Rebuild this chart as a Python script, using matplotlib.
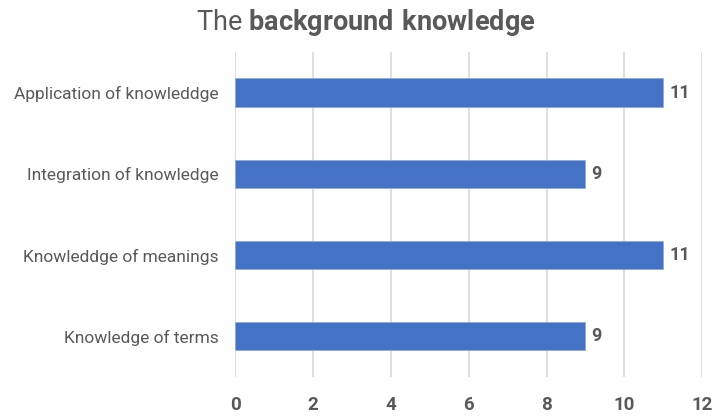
import matplotlib
matplotlib.use("Agg")
import matplotlib.pyplot as plt
from matplotlib import font_manager

# pick a condensed face if we have one
names = {f.name for f in font_manager.fontManager.ttflist}
fam = "Liberation Sans Narrow" if "Liberation Sans Narrow" in names else "Roboto"
plt.rcParams['font.family'] = [fam, 'DejaVu Sans']
plt.rcParams['mathtext.fontset'] = 'custom'
plt.rcParams['mathtext.rm'] = fam
plt.rcParams['mathtext.bf'] = fam + ':bold'

categories = ["Knowledge of terms", "Knowleddge of meanings",
              "Integration of knowledge", "Application of knowleddge"]
values = [9, 11, 9, 11]
xticks = [0, 2, 4, 6, 8, 10, 12]

grey = "#595959"
blue = "#4472C4"

fig = plt.figure(figsize=(7.15, 4.16), dpi=100)
ax = fig.add_axes([0.3287, 0.094, 0.6535, 0.781])

bars = ax.barh(range(len(categories)), values, height=0.35, color=blue,
               edgecolor="#8FAADC", linewidth=0.6, zorder=3)
for b, v in zip(bars, values):
    ax.text(b.get_width() + 0.15, b.get_y() + b.get_height() / 2, str(v),
            va="center", ha="left", fontsize=13, fontweight="bold", color=grey)

ax.set_xlim(0, 12)
ax.set_ylim(-0.5, len(categories) - 0.5)
ax.set_xticks(xticks)
ax.set_xticklabels([str(t) for t in xticks], fontsize=13.5, fontweight="bold", color=grey)
ax.set_yticks(range(len(categories)))
ax.set_yticklabels(categories, fontsize=12.5, color=grey)
ax.tick_params(axis="both", length=0)
ax.tick_params(axis="x", pad=14)
ax.tick_params(axis="y", pad=12)
ax.grid(axis="x", color="#D9D9D9", linewidth=1.2, zorder=0)
for s in ax.spines.values():
    s.set_visible(False)

fig.text(0.512, 0.945, "The $\\mathbf{background\\ knowledge}$", ha="center", va="center",
         fontsize=19.5, color=grey)

fig.savefig("out.png", dpi=100)
